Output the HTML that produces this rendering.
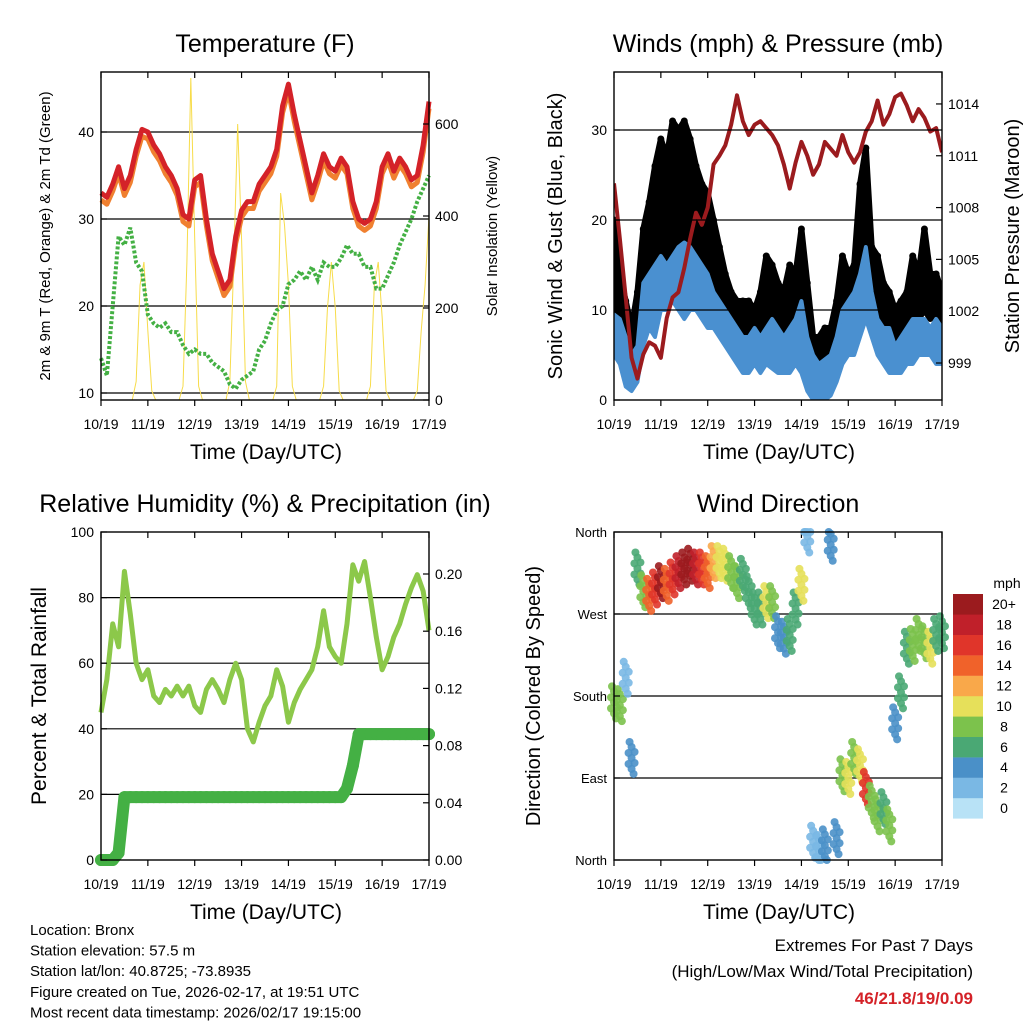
<!DOCTYPE html>
<html><head><meta charset="utf-8"><style>
body{margin:0;background:#fff;}
svg{display:block;font-family:"Liberation Sans",sans-serif;}
</style></head><body>
<svg id="s" width="1024" height="1024" viewBox="0 0 1024 1024"></svg>
<script>
// ---- data (8 samples per day, 10/19 .. 17/19) ----
const dayLabels=["10/19","11/19","12/19","13/19","14/19","15/19","16/19","17/19"];
const tempRed=[33,32.5,34,36,33.5,35,38,40.3,40,38.5,37.5,36,35,33.5,30.5,30,34.5,35,30,26,24,22,23,28,31,32,32,34,35,36,38,43,45.5,42,39,36,33,35,37.5,36,35.5,37,36,32,30,29.5,30,32,36,37.5,35.5,37,36,34.5,35,38.5,43.5];
const tempOrangeOffset=[0.8];
const dewGreen=[14,12,20,28,27,29,25,24,19,18,17.5,18,17,17,15.5,14.5,15,14.5,14.5,13.5,13,12.5,11,10.5,11.5,12,12.5,15,16,18,19.5,20,22.5,23,24,23,24.5,23,25,24.5,24.5,25.5,27,26,26,24.5,24.5,22,22,23.5,25,27,28.5,30,32,33.5,35];
// solar: 12 samples per day
const solar=[0,0,0,0,0,0,0,0,0,40,250,300,150,20,0,0,0,0,0,0,0,30,300,700,350,30,0,0,0,0,0,0,0,40,300,600,350,40,0,0,0,0,0,0,0,30,450,380,250,30,0,0,0,0,0,0,0,30,200,300,200,20,0,0,0,0,0,0,0,30,250,300,180,20,0,0,0,0,0,0,0,20,150,250,400];
const windHi=[9.5,9,7,5,6,13,14,15,16,15,16,17,17.5,17,16,15,14,12,11,10,9,8,7,7,8,7,8,9,8,7,8,9,11,7,5,4,4.5,5,7,10,11,12,14,17,12,9,8,8,6,7,8,9,9,9,8,9,8];
const windLo=[5,4,1.5,1,2,6,8,7,10,10,11,10,9,10,10,9,8,8,7,6,5,4,3,3,4,3,4,3.5,3,3,3,4,3,1,0,0,0,0.5,2,4,5,5,7,9,7,5,4,3,3,3,4,4,5,5,5,4,4];
const gustLo=[8,7,5,3,6,10,12,14,14,15,16,15,14,14,13,13,12,10,9,8,8,7,7,6,6,7,8,8,7,7,7,8,7,5,3,2,3,3,6,9,10,10,11,12,10,9,8,6,6,7,8,9,9,10,9,10,8];
const gustHi=[20,14,11,8,12,19,22,26,29,27,31,30,31,29,26,24,23,20,17,14,12,11,11,11,10,12,16,15,13,12,15,14,19,13,7,7,8,8,11,16,14,15,24,28,17,16,13,12,10,11,12,16,14,19,14,14,12];
const pressure=[1009.4,1006.2,1002.8,999.3,998.1,999.5,1000.2,1000,999.3,1001.6,1002.8,1003.1,1004.5,1006.2,1007.7,1007,1008,1010.5,1011,1011.6,1012.8,1014.5,1013,1012.2,1012.8,1013,1012.6,1012.2,1011.6,1010.5,1009.1,1010.6,1011.8,1011,1009.9,1010.5,1011.8,1011.4,1011,1012.2,1011.2,1010.6,1011.2,1012.4,1013,1014.2,1012.8,1013.4,1014.4,1014.6,1013.9,1013,1013.7,1013.2,1012.4,1012.6,1011.2];
const rh=[45,55,72,65,88,75,60,55,58,50,48,52,50,53,50,53,47,45,52,55,52,48,55,60,55,40,36,42,47,50,58,53,42,48,52,55,58,65,76,65,62,60,72,90,85,91,80,68,58,62,68,72,78,83,87,82,70];
const rain=[0,0,0,0.005,0.044,0.044,0.044,0.044,0.044,0.044,0.044,0.044,0.044,0.044,0.044,0.044,0.044,0.044,0.044,0.044,0.044,0.044,0.044,0.044,0.044,0.044,0.044,0.044,0.044,0.044,0.044,0.044,0.044,0.044,0.044,0.044,0.044,0.044,0.044,0.044,0.044,0.044,0.05,0.066,0.088,0.088,0.088,0.088,0.088,0.088,0.088,0.088,0.088,0.088,0.088,0.088,0.088];
const windDir=[173,170,200,112,320,295,291,298,305,302,309,316,320,324,320,320,316,327,327,324,316,305,313,294,276,276,283,283,250,244,247,276,302,355,20,10,16,346,24,93,90,112,104,79,64,49,57,38,150,184,233,236,247,239,233,247,250];
const windSpd=[7,7,2,4,5,8,13,15,19,14,16,17,20,20,18,16,14,12,10,9,8,7,6,5,6,6,9,7,4,4,6,5,9,2,2,2,3,3,3,8,9,8,10,16,8,7,6,7,3,5,6,7,8,7,9,6,6];
const speedLabels=["0","2","4","6","8","10","12","14","16","18","20+"];
const speedColors=["#b8e2f6","#7ab8e4","#4a90c8","#4aa874","#7cc24c","#e6e05a","#f9a84a","#f0622a","#e0352a","#c0202a","#9b1b1e"];

const S=document.getElementById('s');const NS="http://www.w3.org/2000/svg";
function mk(tag,attrs,parent,text){const e=document.createElementNS(NS,tag);for(const k in attrs)e.setAttribute(k,attrs[k]);if(text!==undefined)e.textContent=text;(parent||S).appendChild(e);return e;}
function txt(x,y,s,size,anchor,parent,extra){const e=mk('text',Object.assign({x:x,y:y,'font-size':size,'text-anchor':anchor||'middle',fill:'#000'},extra||{}),parent,s);return e;}

function panel(name,x0,y0,title){
  const g=mk('g',{},S);
  const t=txt(x0+164,y0-20,title,25,'middle',g);
  const xa=mk('g',{},g);
  dayLabels.forEach((l,i)=>{const x=x0+i*328/7;
    mk('line',{x1:x,y1:y0+328,x2:x,y2:y0+334,stroke:'#000','stroke-width':1.2},xa);
    mk('line',{x1:x,y1:y0,x2:x,y2:y0+6,stroke:'#000','stroke-width':1.2},xa);
    const tl=txt(x,y0+357,l,14,'middle',xa);});
  const xt=txt(x0+165,y0+387,'Time (Day/UTC)',21,'middle',xa);
  return g;
}
function frame(g,x0,y0){mk('rect',{x:x0,y:y0,width:328,height:328,fill:'none',stroke:'#000','stroke-width':1.4},g);}
function hgrid(g,x0,ys){ys.forEach(y=>mk('line',{x1:x0,y1:y,x2:x0+328,y2:y,stroke:'#000','stroke-width':1.2},g));}
function yticks(g,x,ys,labels,side,size){ys.forEach((y,i)=>{
  mk('line',{x1:x,y1:y,x2:x+(side<0?6:-6),y2:y,stroke:'#000','stroke-width':1.2},g);
  const t=txt(side<0?x-7:x+6,y+5,labels[i],size||14,side<0?'end':'start',g);});}
function vtitle(g,x,y,s,size,name){const t=txt(0,0,s,size,'middle',g,{transform:`translate(${x},${y}) rotate(-90)`});}
function pts(arr,xf,yf,per){return arr.map((v,i)=>xf(i/per)+','+yf(v)).join(' ');}

// ===== Panel 1: Temperature =====
{const x0=101,y0=72;const g=panel('temperature-panel',x0,y0,'Temperature (F)');
 const X=t=>x0+t*328/7, Y=v=>393-(v-10)*8.7, YS=v=>400-v*0.46;
 hgrid(g,x0,[10,20,30,40].map(Y));
 const sol=mk('polyline',{points:pts(solar,X,YS,12),fill:'none',stroke:'#f7dc4a','stroke-width':1},g);
 
 const dg=mk('g',{},g);
 mk('polyline',{points:pts(dewGreen,X,Y,8),fill:'none',stroke:'#44b044','stroke-width':4,'stroke-dasharray':'3 2'},dg);
 const or=mk('polyline',{points:tempRed.map((v,i)=>X(i/8)+','+Y(v-tempOrangeOffset[0])).join(' '),fill:'none',stroke:'#f08030','stroke-width':5,'stroke-linejoin':'round'},g);
 
 const rd=mk('polyline',{points:pts(tempRed,X,Y,8),fill:'none',stroke:'#d42228','stroke-width':5,'stroke-linejoin':'round'},g);
 
 frame(g,x0,y0);
 yticks(g,x0,[10,20,30,40].map(Y),["10","20","30","40"],-1);
 yticks(g,x0+328,[0,200,400,600].map(YS),["0","200","400","600"],1);
 vtitle(g,50,236,'2m & 9m T (Red, Orange) & 2m Td (Green)',15,'temperature-y-axis-title');
 vtitle(g,497,236,'Solar Insolation (Yellow)',15,'solar-y-axis-title');
}
// ===== Panel 2: Winds =====
{const x0=614,y0=72;const g=panel('winds-panel',x0,y0,'Winds (mph) & Pressure (mb)');
 const X=t=>x0+t*328/7, Y=v=>400-v*9, YP=v=>363-(v-999)*17.27;
 const cp=mk('clipPath',{id:'cw'},g);mk('rect',{x:x0,y:y0,width:328,height:328},cp);
 const gg=mk('g',{'clip-path':'url(#cw)'},g);
 const band=gustHi.map((v,i)=>X(i/8)+','+Y(v)).concat(gustLo.map((v,i)=>X(i/8)+','+Y(v)).reverse()).join(' ');
 const gb=mk('polygon',{points:band,fill:'#000',stroke:'#000','stroke-width':6,'stroke-linejoin':'round'},gg);
 
 gustHi.forEach((v,i)=>{const c=mk('circle',{cx:X(i/8),cy:Y(v),r:3.5,fill:'#000'},gg);});
 const wb=windHi.map((v,i)=>X(i/8)+','+Y(v)).concat(windLo.map((v,i)=>X(i/8)+','+Y(v)).reverse()).join(' ');
 const wp=mk('polygon',{points:wb,fill:'#4a90d0',stroke:'#4a90d0','stroke-width':4,'stroke-linejoin':'round'},gg);
 
 hgrid(g,x0,[10,20,30].map(Y));
 const pl=mk('polyline',{points:pts(pressure,X,YP,8),fill:'none',stroke:'#9b1b1e','stroke-width':4,'stroke-linejoin':'round'},gg);
 
 frame(g,x0,y0);
 yticks(g,x0,[0,10,20,30].map(Y),["0","10","20","30"],-1);
 yticks(g,x0+328,[999,1002,1005,1008,1011,1014].map(YP),["999","1002","1005","1008","1011","1014"],1);
 vtitle(g,562,236,'Sonic Wind & Gust (Blue, Black)',20,'wind-y-axis-title');
 vtitle(g,1019,236,'Station Pressure (Maroon)',20,'pressure-y-axis-title');
}
// ===== Panel 3: RH & Precip =====
{const x0=101,y0=532;const g=panel('humidity-panel',x0,y0,'Relative Humidity (%) & Precipitation (in)');
 const X=t=>x0+t*328/7, Y=v=>860-v*3.28, YR=v=>860-v*1430;
 hgrid(g,x0,[20,40,60,80].map(Y));
 const rl=mk('polyline',{points:pts(rh,X,Y,8),fill:'none',stroke:'#8cc84a','stroke-width':5,'stroke-linejoin':'round'},g);
 
 const rn=mk('polyline',{points:pts(rain,X,YR,8),fill:'none',stroke:'#44b044','stroke-width':12,'stroke-linejoin':'round','stroke-linecap':'round'},g);
 
 rain.forEach((v,i)=>{const c=mk('circle',{cx:X(i/8),cy:YR(v),r:6,fill:'#44b044'},g);});
 frame(g,x0,y0);
 yticks(g,x0,[0,20,40,60,80,100].map(Y),["0","20","40","60","80","100"],-1);
 yticks(g,x0+328,[0,0.04,0.08,0.12,0.16,0.20].map(YR),["0.00","0.04","0.08","0.12","0.16","0.20"],1);
 vtitle(g,46,696,'Percent & Total Rainfall',21,'humidity-y-axis-title');
}
// ===== Panel 4: Wind direction =====
{const x0=614,y0=532;const g=panel('wind-direction-panel',x0,y0,'Wind Direction');
 const X=t=>x0+t*328/7, Y=v=>860-v*328/360;
 hgrid(g,x0,[90,180,270].map(Y));
 const off=[[0,0],[-3,-5],[3,5],[-3,6],[3,-6],[0,-11],[0,11],[-2,-16],[2,16]];
 windDir.forEach((d,i)=>{const ci=Math.min(10,Math.round(windSpd[i]/2));
  off.forEach(o=>{const c=mk('circle',{cx:X(i/8)+o[0],cy:Math.max(y0,Math.min(y0+328,Y(d)+o[1])),r:4,fill:speedColors[ci],'fill-opacity':0.9},g);
   
   });});
 frame(g,x0,y0);
 yticks(g,x0,[0,90,180,270,360].map(Y),["North","East","South","West","North"],-1,13);
 vtitle(g,540,696,'Direction (Colored By Speed)',20,'direction-y-axis-title');
 const lg=mk('g',{},S);
 txt(1007,588,'mph',14,'middle',lg);
 speedColors.forEach((c,i)=>{const y=594+(10-i)*20.4;mk('rect',{x:953,y:y,width:30,height:20.6,fill:c},lg);
  const t=txt(1004,y+15,speedLabels[i],14,'middle',lg);});
}
// ===== footer =====
{const f=mk('g',{},S);
 ["Location: Bronx","Station elevation: 57.5 m","Station lat/lon: 40.8725; -73.8935","Figure created on Tue, 2026-02-17, at 19:51 UTC","Most recent data timestamp: 2026/02/17 19:15:00"].forEach((s,i)=>txt(30,935+i*20.6,s,15,'start',f));
 const e=mk('g',{},S);
 txt(973,951,'Extremes For Past 7 Days',17,'end',e);
 txt(973,977,'(High/Low/Max Wind/Total Precipitation)',17,'end',e);
 txt(973,1004,'46/21.8/19/0.09',17,'end',e,{fill:'#d42228','font-weight':'bold'});
}
</script>
</body></html>
